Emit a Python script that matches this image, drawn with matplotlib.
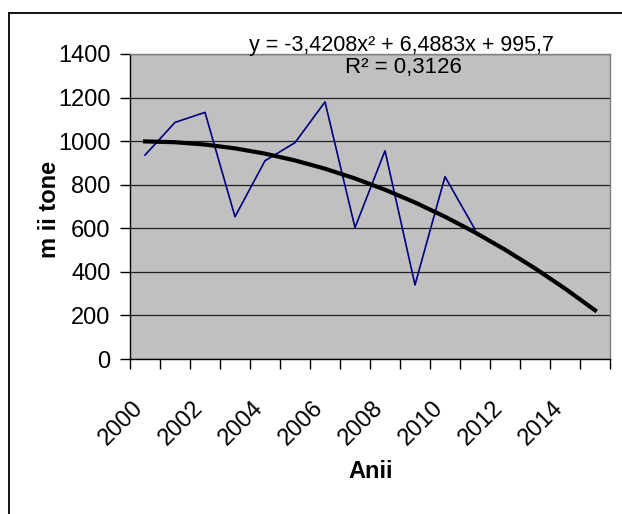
import numpy as np
import matplotlib
matplotlib.use('Agg')
import matplotlib.pyplot as plt
from matplotlib.lines import Line2D

plt.rcParams['font.family'] = ['Liberation Sans', 'DejaVu Sans']

# date
ani = [2000, 2001, 2002, 2003, 2004, 2005, 2006, 2007,
       2008, 2009, 2010, 2011, 2012, 2013, 2014, 2015]
productie = [936, 1086, 1132, 653, 910, 993, 1180, 603, 956, 340, 837, 595]
# coeficientii trendului polinomial (din ecuatia afisata)
coef = [-3.4208, 6.4883, 995.7]
r2 = 0.3126
yticks = [0, 200, 400, 600, 800, 1000, 1200, 1400]

W, H = 622, 514
fig = plt.figure(figsize=(W / 100, H / 100), dpi=100)
ax = fig.add_axes([130 / W, 1 - 359 / H, 480 / W, 305 / H])

x_all = np.arange(1, len(ani) + 1)
x_dat = np.arange(1, len(productie) + 1)
trend = np.polyval(coef, x_all)

ax.set_facecolor('#c0c0c0')
ax.plot(x_dat, productie, color='#000080', lw=1.2, zorder=3)
ax.plot(x_all, trend, color='black', lw=3, zorder=4)

ax.set_xlim(0.5, len(ani) + 0.5)
ax.set_ylim(0, 1400)
ax.set_yticks(yticks)
ax.set_yticklabels([str(v) for v in yticks], fontsize=17)
ax.yaxis.grid(True, color='#202020', lw=0.9)
ax.set_axisbelow(True)

# tick-uri intre categorii, etichete la fiecare 2 ani
ax.set_xticks(np.arange(0.5, len(ani) + 1, 1))
ax.set_xticklabels([])
ax.set_xticks(x_all[::2] + 0.1, minor=True)
ax.set_xticklabels([str(a) for a in ani[::2]], minor=True, fontsize=17,
                   rotation=45, ha='right', va='top')
ax.tick_params(axis='x', which='major', length=7, width=1, direction='out')
ax.tick_params(axis='x', which='minor', length=0, pad=27)
ax.tick_params(axis='y', length=7, width=1, direction='out', pad=7)

for s in ['left', 'bottom']:
    ax.spines[s].set_color('black')
    ax.spines[s].set_linewidth(1)
for s in ['top', 'right']:
    ax.spines[s].set_color('#808080')
    ax.spines[s].set_linewidth(1)

eq = 'y = %s' % ('%.4fx² + %.4fx + %.1f' % tuple(coef)).replace('.', ',').replace('+ -', '- ')
fig.text(401 / W, 1 - 51 / H, eq, ha='center', va='baseline', fontsize=15.5)
fig.text(403 / W, 1 - 68 / H, ('R² = %.4f' % r2).replace('.', ','),
         ha='center', va='center', fontsize=16)

fig.text(50 / W, 1 - 209 / H, 'm ii tone', rotation=90, ha='center', va='center',
         fontsize=17, fontweight='bold')
fig.text(371 / W, 1 - 471 / H, 'Anii', ha='center', va='center',
         fontsize=17, fontweight='bold')

# chenarul exterior
fig.add_artist(Line2D([9 / W, 9 / W], [0, 1 - 13 / H], color='black', lw=1.3,
                      transform=fig.transFigure))
fig.add_artist(Line2D([9 / W, 1], [1 - 13 / H, 1 - 13 / H], color='black', lw=1.3,
                      transform=fig.transFigure))

fig.savefig('out.png', dpi=100)
